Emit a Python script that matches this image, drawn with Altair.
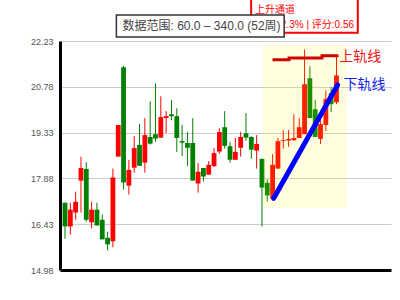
import altair as alt
import pandas as pd

# ---- weekly candles (index 0..51) ----
idx = list(range(52))
opens = [17.11, 16.36, 16.80, 17.81, 18.18, 16.49, 16.89, 16.57, 16.00, 15.89,
         18.57, 21.40, 17.65, 18.22, 18.94, 18.38, 19.19, 19.28, 19.17, 19.79,
         19.91, 19.85, 19.06, 19.00, 19.00, 17.72, 18.21, 18.00, 18.27, 18.73,
         19.50, 18.90, 18.47, 18.85, 19.31, 19.19, 18.76, 18.50, 17.74, 17.24,
         18.19, 19.06, 19.08, 19.09, 19.16, 19.28, 21.05, 20.07, 19.13, 19.57,
         20.58, 20.29]
closes = [16.36, 16.89, 17.14, 18.21, 16.57, 16.89, 16.39, 15.95, 15.79, 17.91,
          19.57, 17.75, 18.15, 18.84, 18.28, 19.25, 18.98, 19.14, 19.82, 19.85,
          19.85, 19.16, 19.01, 18.85, 17.81, 18.09, 17.94, 18.31, 18.68, 19.35,
          18.91, 18.47, 18.72, 19.19, 19.17, 18.79, 18.97, 17.59, 17.34, 18.31,
          19.06, 19.09, 19.13, 19.16, 19.50, 20.86, 19.79, 19.19, 19.60, 20.39,
          20.23, 21.14]
highs = [17.11, 17.11, 17.46, 18.57, 18.40, 17.14, 17.11, 16.74, 16.19, 18.19,
         19.57, 21.44, 18.46, 19.22, 19.60, 19.79, 20.32, 20.89, 20.48, 20.01,
         20.36, 20.10, 19.57, 19.35, 19.79, 18.37, 18.21, 18.43, 18.84, 19.47,
         20.01, 19.03, 19.16, 19.35, 19.95, 19.22, 19.25, 18.50, 17.85, 18.65,
         19.16, 19.41, 19.41, 19.91, 19.79, 21.96, 21.43, 20.36, 19.91, 20.67,
         20.77, 21.74]
lows = [15.97, 16.10, 16.57, 16.80, 16.51, 16.30, 16.39, 15.95, 15.60, 15.70,
        18.57, 17.53, 17.37, 18.06, 18.28, 18.06, 18.95, 19.04, 19.17, 19.32,
        19.72, 18.72, 18.59, 18.27, 17.81, 17.43, 17.78, 18.00, 18.24, 18.66,
        18.82, 18.38, 18.47, 18.57, 19.07, 18.50, 18.19, 16.36, 17.15, 17.18,
        18.19, 18.82, 18.88, 19.06, 19.16, 19.28, 19.79, 19.19, 18.97, 19.38,
        19.98, 20.23]

y_ticks = [14.98, 16.43, 17.88, 19.33, 20.78, 22.23]

# channel rails
upper_x = [38.98, 42.08, 48.27, 51.37]
upper_y = [21.64, 21.69, 21.76, 21.76]
lower_x = [39.2, 51.2]
lower_y = [17.25, 20.84]

# highlighted channel region
band_x = [37.16, 53.0]
band_y = [16.94, 22.10]

range_text = "数据范围: 60.0 – 340.0 (52周)"
box_title = "上升通道"
box_line2 = "涨幅:12.3% | 评分:0.56"
upper_label = "上轨线"
lower_label = "下轨线"

FONT = "Liberation Sans, Noto Sans CJK SC, sans-serif"

df = pd.DataFrame({"i": idx, "open": opens, "close": closes, "high": highs, "low": lows})
df["dir"] = ["up" if c >= o else "down" for o, c in zip(opens, closes)]
df["top"] = [max(o, c) for o, c in zip(opens, closes)]
df["bot"] = [min(o, c) for o, c in zip(opens, closes)]

xs = alt.Scale(domain=[0, 60.3], nice=False, zero=False)
ys = alt.Scale(domain=[14.98, 22.23], nice=False, zero=False)
color = alt.Color("dir:N", scale=alt.Scale(domain=["up", "down"], range=["#ff0000", "#008000"]), legend=None)

x_axis = alt.Axis(labels=False, ticks=False, grid=False, domainColor="black", domainWidth=3, title=None)
y_axis = alt.Axis(values=y_ticks, format=".2f", labelColor="#555555", labelFontSize=9, labelFont=FONT,
                  ticks=False, domainColor="black", domainWidth=3, gridColor="#cccccc", gridWidth=1,
                  title=None, labelPadding=7)

base = alt.Chart(df)
wick = base.mark_rule(strokeWidth=1).encode(
    x=alt.X("i:Q", scale=xs, axis=x_axis),
    y=alt.Y("low:Q", scale=ys, axis=y_axis),
    y2="high:Q",
    color=color,
)
body = base.mark_bar(size=4.8, orient="vertical").encode(
    x=alt.X("i:Q", scale=xs),
    y=alt.Y("bot:Q", scale=ys),
    y2="top:Q",
    color=color,
)

band_df = pd.DataFrame({"x": [band_x[0]], "x2": [band_x[1]], "y": [band_y[0]], "y2": [band_y[1]]})
band = alt.Chart(band_df).mark_rect(fill="#ffff00", opacity=0.12).encode(
    x=alt.X("x:Q", scale=xs), x2="x2:Q", y=alt.Y("y:Q", scale=ys), y2="y2:Q"
)

up_df = pd.DataFrame({"x": upper_x, "y": upper_y})
upper = alt.Chart(up_df).mark_line(color="#d00000", strokeWidth=3, interpolate="step-after").encode(
    x=alt.X("x:Q", scale=xs), y=alt.Y("y:Q", scale=ys)
)
lo_df = pd.DataFrame({"x": lower_x, "y": lower_y})
lower = alt.Chart(lo_df).mark_line(color="#0000ff", strokeWidth=5, strokeCap="round").encode(
    x=alt.X("x:Q", scale=xs), y=alt.Y("y:Q", scale=ys)
)

up_lab = alt.Chart(pd.DataFrame({"t": [upper_label]})).mark_text(
    align="left", baseline="middle", fontSize=14, color="#ee1111", font=FONT
).encode(x=alt.datum(51.5, scale=xs), y=alt.datum(21.73, scale=ys), text="t:N")
lo_lab = alt.Chart(pd.DataFrame({"t": [lower_label]})).mark_text(
    align="left", baseline="middle", fontSize=14, color="#1122ee", font=FONT
).encode(x=alt.datum(52.3, scale=xs), y=alt.datum(20.83, scale=ys), text="t:N")

# red info box (partly above the top edge)
red_box = alt.Chart(pd.DataFrame({"a": [0]})).mark_rect(fill="white", stroke="#ff0000", strokeWidth=2).encode(
    x=alt.datum(34.97, scale=xs), x2=alt.datum(55.0), y=alt.datum(22.49, scale=ys), y2=alt.datum(23.84)
)
red_t1 = alt.Chart(pd.DataFrame({"t": [box_title]})).mark_text(
    align="left", baseline="middle", fontSize=10, color="#ff0000", font=FONT
).encode(x=alt.datum(35.7, scale=xs), y=alt.datum(23.2, scale=ys), text="t:N")
red_t2 = alt.Chart(pd.DataFrame({"t": [box_line2]})).mark_text(
    align="right", baseline="middle", fontSize=10, color="#ff0000", font=FONT
).encode(x=alt.datum(54.3, scale=xs), y=alt.datum(22.74, scale=ys), text="t:N")

# grey data-range box
grey_box = alt.Chart(pd.DataFrame({"a": [0]})).mark_rect(fill="white", stroke="#333333", strokeWidth=1.5).encode(
    x=alt.datum(9.65, scale=xs), x2=alt.datum(41.17), y=alt.datum(22.36, scale=ys), y2=alt.datum(23.05)
)
grey_t = alt.Chart(pd.DataFrame({"t": [range_text]})).mark_text(
    align="left", baseline="middle", fontSize=12, color="#444444", font=FONT
).encode(x=alt.datum(10.8, scale=xs), y=alt.datum(22.70, scale=ys), text="t:N")

chart = alt.layer(
    wick, body, band, upper, lower, up_lab, lo_lab, red_box, red_t1, red_t2, grey_box, grey_t
).properties(
    width=331, height=229,
    padding={"left": 60, "top": 41, "right": 9, "bottom": 30},
    autosize="none",
    background="white",
).configure_view(stroke=None)

chart.save("out.html", embed_options={"renderer": "svg", "actions": False})
